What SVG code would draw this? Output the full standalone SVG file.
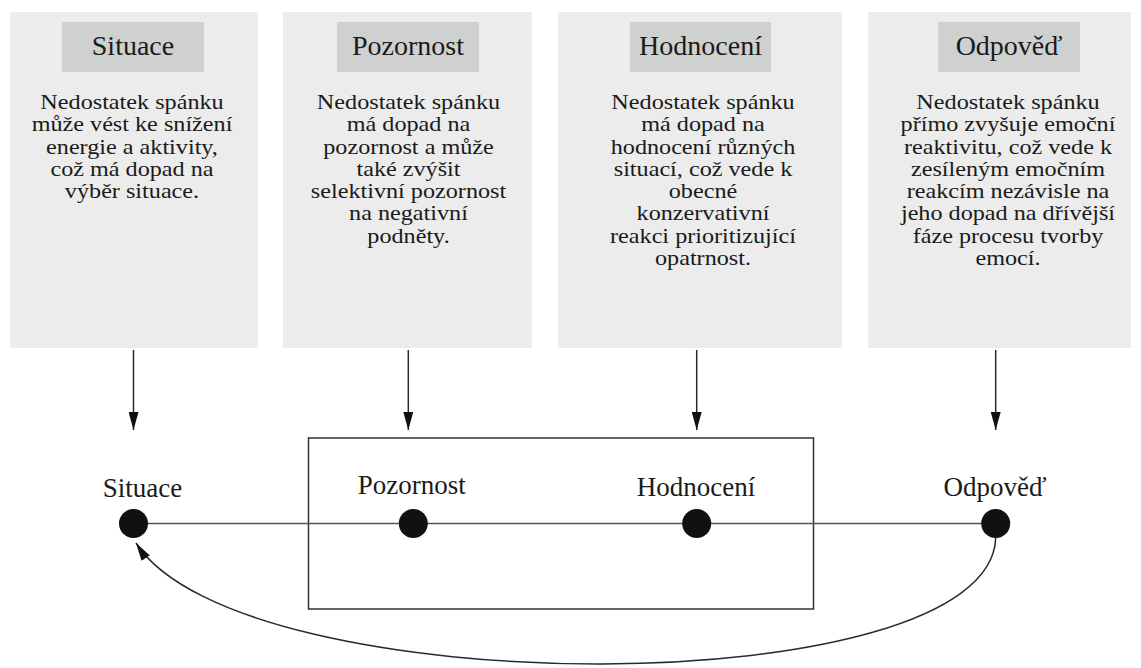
<svg xmlns="http://www.w3.org/2000/svg" width="1141" height="668" viewBox="0 0 1141 668">
<style>
.panel{fill:#ececec;}
.head{fill:#cfd0d0;}
text{font-family:'Liberation Serif','Times New Roman','DejaVu Serif',serif;fill:#1a1a1a;text-anchor:middle;font-weight:normal;}
.ht{font-size:28px;}
.bt{font-size:20.5px;}
.lbl{font-size:27px;}
.ln{stroke:#2a2a2a;stroke-width:1.5;fill:none;}
.dot{fill:#111;}
</style>
<defs>
<marker id="ah" viewBox="0 0 18 10" refX="18" refY="5" markerWidth="18" markerHeight="10" markerUnits="userSpaceOnUse" orient="auto">
<path d="M0,0 L18,5 L0,10 Z" fill="#111"/>
</marker>
</defs>
<rect width="1141" height="668" fill="#ffffff"/>

<g id="panel-situace">
<rect class="panel" x="10" y="12" width="248" height="336"/>
<rect class="head" x="62" y="22" width="142" height="50"/>
<text class="ht" x="133" y="55">Situace</text>
<g transform="translate(132 0) scale(1.18 1)">
<text class="bt" x="0" y="109">Nedostatek spánku</text>
<text class="bt" x="0" y="131.3">může vést ke snížení</text>
<text class="bt" x="0" y="153.6">energie a aktivity,</text>
<text class="bt" x="0" y="175.9">což má dopad na</text>
<text class="bt" x="0" y="198.2">výběr situace.</text>
</g>
</g>

<g id="panel-pozornost">
<rect class="panel" x="283" y="12" width="249" height="336"/>
<rect class="head" x="337" y="22" width="142" height="50"/>
<text class="ht" x="408" y="55">Pozornost</text>
<g transform="translate(408.5 0) scale(1.18 1)">
<text class="bt" x="0" y="109">Nedostatek spánku</text>
<text class="bt" x="0" y="131.3">má dopad na</text>
<text class="bt" x="0" y="153.6">pozornost a může</text>
<text class="bt" x="0" y="175.9">také zvýšit</text>
<text class="bt" x="0" y="198.2">selektivní pozornost</text>
<text class="bt" x="0" y="220.5">na negativní</text>
<text class="bt" x="0" y="242.8">podněty.</text>
</g>
</g>

<g id="panel-hodnoceni">
<rect class="panel" x="558" y="12" width="284" height="336"/>
<rect class="head" x="630" y="22" width="141" height="50"/>
<text class="ht" x="700.5" y="55">Hodnocení</text>
<g transform="translate(703 0) scale(1.18 1)">
<text class="bt" x="0" y="109">Nedostatek spánku</text>
<text class="bt" x="0" y="131.3">má dopad na</text>
<text class="bt" x="0" y="153.6">hodnocení různých</text>
<text class="bt" x="0" y="175.9">situací, což vede k</text>
<text class="bt" x="0" y="198.2">obecné</text>
<text class="bt" x="0" y="220.5">konzervativní</text>
<text class="bt" x="0" y="242.8">reakci prioritizující</text>
<text class="bt" x="0" y="265.1">opatrnost.</text>
</g>
</g>

<g id="panel-odpoved">
<rect class="panel" x="868" y="12" width="263" height="336"/>
<rect class="head" x="938" y="22" width="142" height="50"/>
<text class="ht" x="1009" y="55">Odpověď</text>
<g transform="translate(1008 0) scale(1.18 1)">
<text class="bt" x="0" y="109">Nedostatek spánku</text>
<text class="bt" x="0" y="131.3">přímo zvyšuje emoční</text>
<text class="bt" x="0" y="153.6">reaktivitu, což vede k</text>
<text class="bt" x="0" y="175.9">zesíleným emočním</text>
<text class="bt" x="0" y="198.2">reakcím nezávisle na</text>
<text class="bt" x="0" y="220.5">jeho dopad na dřívější</text>
<text class="bt" x="0" y="242.8">fáze procesu tvorby</text>
<text class="bt" x="0" y="265.1">emocí.</text>
</g>
</g>

<g id="group-box">
<rect x="308.5" y="438" width="505" height="171" fill="none" stroke="#333" stroke-width="1.5"/>
</g>

<g id="connectors">
<line class="ln" x1="133.5" y1="350" x2="133.5" y2="430" marker-end="url(#ah)"/>
<line class="ln" x1="408.3" y1="350" x2="408.3" y2="430" marker-end="url(#ah)"/>
<line class="ln" x1="696.7" y1="350" x2="696.7" y2="430" marker-end="url(#ah)"/>
<line class="ln" x1="995.7" y1="350" x2="995.7" y2="430" marker-end="url(#ah)"/>
<line x1="133.5" y1="523.5" x2="995.7" y2="523.5" stroke="#555" stroke-width="1.5"/>
<path class="ln" d="M995.7,538 C990,705 240,705 136,543" marker-end="url(#ah)"/>
</g>

<g id="node-situace">
<circle class="dot" cx="133.5" cy="523.5" r="14.5"/>
<text class="lbl" x="142.5" y="497">Situace</text>
</g>
<g id="node-pozornost">
<circle class="dot" cx="413.3" cy="523.5" r="14.5"/>
<text class="lbl" x="411.7" y="494">Pozornost</text>
</g>
<g id="node-hodnoceni">
<circle class="dot" cx="696.7" cy="523.5" r="14.5"/>
<text class="lbl" x="696" y="496">Hodnocení</text>
</g>
<g id="node-odpoved">
<circle class="dot" cx="995.7" cy="523.5" r="14.5"/>
<text class="lbl" x="995" y="496">Odpověď</text>
</g>
</svg>
